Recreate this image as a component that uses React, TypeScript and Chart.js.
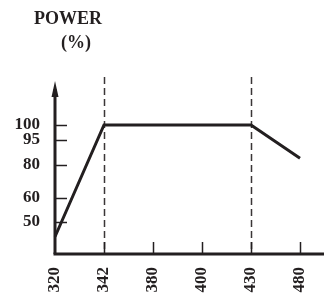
import React, { useEffect, useRef } from "react";
import { Chart, registerables, LinearScale } from "chart.js";

const categories = ["320", "342", "380", "400", "430", "480"];
const powerValues = [44, 100, 100, 100, 100, 84];
const yTicks = [50, 60, 80, 95, 100];
const dashedAt = ["342", "430"];
const yTitleLines = ["POWER", "(%)"];

// piecewise axis mapping (value -> fraction of axis height), the drawing is not to scale
const Y_MIN = 37;
const Y_MAX = 116;
const knotValues = [Y_MIN, 50, 60, 80, 95, 100, Y_MAX];
const knotFractions = [0, 0.181, 0.316, 0.503, 0.644, 0.729, 1];

function toDec(v: number): number {
  for (let i = 0; i < knotValues.length - 1; i++) {
    const a = knotValues[i], b = knotValues[i + 1];
    if (v <= b || i === knotValues.length - 2) {
      const t = (v - a) / (b - a);
      return knotFractions[i] + t * (knotFractions[i + 1] - knotFractions[i]);
    }
  }
  return 1;
}
function fromDec(d: number): number {
  for (let i = 0; i < knotFractions.length - 1; i++) {
    const a = knotFractions[i], b = knotFractions[i + 1];
    if (d <= b || i === knotFractions.length - 2) {
      const t = (d - a) / (b - a);
      return knotValues[i] + t * (knotValues[i + 1] - knotValues[i]);
    }
  }
  return Y_MAX;
}

class PiecewiseScale extends LinearScale {
  static id = "piecewise";
  static defaults = (LinearScale as any).defaults;
  getPixelForValue(value: number) {
    return (this as any).getPixelForDecimal(toDec(value));
  }
  getValueForPixel(pixel: number) {
    return fromDec((this as any).getDecimalForPixel(pixel));
  }
}

Chart.register(...registerables, PiecewiseScale as any);

const INK = "#231f20";
const FAMILY = "'Liberation Serif', 'Times New Roman', serif";
const FONT = { family: FAMILY, size: 17, weight: "bold" as const };

const decorPlugin = {
  id: "decor",
  beforeDatasetsDraw(chart: any) {
    const { ctx, chartArea, scales } = chart;
    const x = scales.x;
    ctx.save();
    ctx.strokeStyle = "#3a3637";
    ctx.lineWidth = 1.5;
    ctx.setLineDash([7, 4]);
    dashedAt.forEach((c) => {
      const px = Math.round(x.getPixelForValue(categories.indexOf(c))) + 0.5;
      ctx.beginPath();
      ctx.moveTo(px, chartArea.top);
      ctx.lineTo(px, chartArea.bottom);
      ctx.stroke();
    });
    ctx.restore();
  },
  afterDraw(chart: any) {
    const { ctx, chartArea, scales, width } = chart;
    const x = scales.x, y = scales.y;
    const left = chartArea.left, bottom = chartArea.bottom;
    ctx.save();
    ctx.strokeStyle = INK;
    ctx.fillStyle = INK;
    // ticks
    ctx.lineWidth = 1.5;
    yTicks.forEach((v) => {
      const py = Math.round(y.getPixelForValue(v)) + 0.5;
      ctx.beginPath();
      ctx.moveTo(left, py);
      ctx.lineTo(left + 12, py);
      ctx.stroke();
    });
    categories.forEach((c, i) => {
      if (i === 0) return;
      const px = Math.round(x.getPixelForValue(i)) + 0.5;
      ctx.beginPath();
      ctx.moveTo(px, bottom);
      ctx.lineTo(px, bottom - 12);
      ctx.stroke();
    });
    // axes
    ctx.lineWidth = 3;
    ctx.beginPath();
    ctx.moveTo(left, bottom);
    ctx.lineTo(left, chartArea.top + 12);
    ctx.stroke();
    ctx.beginPath();
    ctx.moveTo(left - 1.5, bottom);
    ctx.lineTo(width, bottom);
    ctx.stroke();
    // arrow head
    ctx.beginPath();
    ctx.moveTo(left, chartArea.top + 4);
    ctx.lineTo(left + 3.5, chartArea.top + 20);
    ctx.lineTo(left - 3.5, chartArea.top + 20);
    ctx.closePath();
    ctx.fill();
    // axis title
    ctx.font = `bold 18px ${FAMILY}`;
    ctx.textAlign = "center";
    ctx.textBaseline = "middle";
    ctx.fillText(yTitleLines[0], 68, 19);
    ctx.fillText(yTitleLines[1], 76, 43);
    ctx.restore();
  },
};

export default function App() {
  const ref = useRef<HTMLCanvasElement>(null);
  useEffect(() => {
    if (!ref.current) return;
    const chart = new Chart(ref.current, {
      type: "line",
      data: {
        labels: categories,
        datasets: [
          {
            data: powerValues,
            borderColor: INK,
            borderWidth: 3,
            pointRadius: 0,
            tension: 0,
            fill: false,
            borderJoinStyle: "miter",
          },
        ],
      },
      options: {
        animation: false,
        responsive: false,
        maintainAspectRatio: false,
        layout: { padding: { top: 77, right: 24, left: 0, bottom: 0 } },
        plugins: { legend: { display: false }, tooltip: { enabled: false }, title: { display: false } },
        scales: {
          x: {
            type: "category",
            offset: false,
            grid: { display: false, drawTicks: false },
            border: { display: false },
            ticks: {
              autoSkip: false,
              minRotation: 90,
              maxRotation: 90,
              padding: 13,
              color: INK,
              font: FONT,
            },
            afterFit: (s: any) => {
              s.height = 42;
              s.paddingLeft = 0;
              s.paddingRight = 0;
            },
          },
          y: {
            type: "piecewise" as any,
            min: Y_MIN,
            max: Y_MAX,
            grid: { display: false, drawTicks: false },
            border: { display: false },
            ticks: { autoSkip: false, padding: 15, color: INK, font: FONT },
            afterBuildTicks: (s: any) => {
              s.ticks = yTicks.map((v) => ({ value: v }));
            },
            afterFit: (s: any) => {
              s.width = 55;
              s.paddingTop = 0;
              s.paddingBottom = 0;
            },
          },
        },
      },
      plugins: [decorPlugin],
    } as any);
    return () => chart.destroy();
  }, []);
  return (
    <div style={{ position: "fixed", left: 0, top: 0, width: 324, height: 296, background: "#fff" }}>
      <canvas ref={ref} width={324} height={296} style={{ width: 324, height: 296 }} />
    </div>
  );
}
